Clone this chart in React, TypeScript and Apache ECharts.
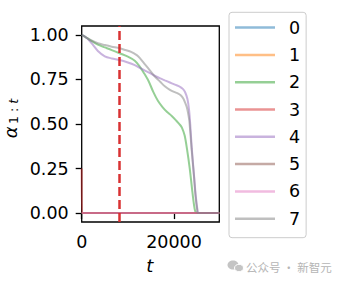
import { useEffect, useRef } from 'react';
import * as echarts from 'echarts';

// ---- data ----
const SERIES_NAMES = ['0', '1', '2', '3', '4', '5', '6', '7'];
const SERIES_COLORS = [
  'rgba(31,119,180,0.5)',
  'rgba(255,127,14,0.5)',
  'rgba(44,160,44,0.5)',
  'rgba(214,39,40,0.5)',
  'rgba(148,103,189,0.5)',
  'rgba(140,86,75,0.5)',
  'rgba(227,119,194,0.5)',
  'rgba(127,127,127,0.5)',
];

const FLAT_T = [0, 29800];
const FLAT_V = [0, 0];

const S3_T = [0, 60, 29800];
const S3_V = [0.25, 0, 0];

const S2_T = [0, 1000, 2000, 3500, 5000, 6500, 8200, 10000, 11500, 12500, 13500, 14500, 15500, 16500, 17500, 18500, 19500, 20500, 21200, 21700, 22300, 22800, 23400, 23900, 24300, 24600, 25000, 29800];
const S2_V = [1.0, 0.985, 0.968, 0.945, 0.93, 0.915, 0.897, 0.878, 0.855, 0.825, 0.785, 0.74, 0.68, 0.63, 0.595, 0.567, 0.545, 0.518, 0.498, 0.48, 0.435, 0.36, 0.25, 0.135, 0.05, 0.01, 0, 0];

const S4_T = [0, 700, 1400, 2400, 3500, 5000, 6500, 8200, 10000, 11500, 12600, 13700, 14800, 16000, 17000, 18000, 19100, 20200, 21300, 21900, 22400, 22900, 23250, 23500, 23850, 24350, 24720, 25080, 25300, 29800];
const S4_V = [1.0, 0.99, 0.975, 0.945, 0.91, 0.88, 0.868, 0.859, 0.845, 0.83, 0.815, 0.8, 0.785, 0.768, 0.756, 0.745, 0.733, 0.721, 0.709, 0.697, 0.678, 0.64, 0.58, 0.5, 0.36, 0.205, 0.092, 0.017, 0, 0];

const S7_T = [0, 1000, 2000, 3500, 5000, 6500, 8200, 9500, 10700, 12000, 12600, 13700, 14800, 15900, 17000, 18000, 19100, 20000, 20900, 21500, 22000, 22400, 22750, 23050, 23300, 23500, 23800, 24300, 24650, 25000, 25200, 29800];
const S7_V = [1.0, 0.985, 0.97, 0.953, 0.943, 0.934, 0.925, 0.915, 0.905, 0.885, 0.87, 0.835, 0.8, 0.765, 0.737, 0.712, 0.692, 0.68, 0.671, 0.66, 0.643, 0.62, 0.595, 0.56, 0.52, 0.46, 0.36, 0.21, 0.095, 0.02, 0, 0];

const SERIES_T = [FLAT_T, FLAT_T, S2_T, S3_T, S4_T, FLAT_T, FLAT_T, S7_T];
const SERIES_V = [FLAT_V, FLAT_V, S2_V, S3_V, S4_V, FLAT_V, FLAT_V, S7_V];

const X_MIN = 0;
const X_MAX = 29800;
const Y_MIN = -0.05;
const Y_MAX = 1.05;
const X_TICKS = [0, 20000];
const Y_TICKS = [0, 0.25, 0.5, 0.75, 1.0];
const DIVIDER_T = 8150;
const WATERMARK = '公众号 · 新智元';

const TICK_FONT = '"DejaVu Sans", sans-serif';

export default function App() {
  const ref = useRef<HTMLDivElement>(null);
  useEffect(() => {
    if (!ref.current) return;
    const chart = echarts.init(ref.current, undefined, { renderer: 'svg' });
    const series: any[] = SERIES_NAMES.map((name, i) => ({
      name,
      type: 'line',
      data: SERIES_T[i].map((t, j) => [t, SERIES_V[i][j]]),
      symbol: 'none',
      smooth: 0.3,
      lineStyle: { color: SERIES_COLORS[i], width: 2 },
      itemStyle: { color: SERIES_COLORS[i] },
      emphasis: { disabled: true },
      z: 2,
    }));
    series.push({
      name: 'divider',
      type: 'line',
      data: [],
      symbol: 'none',
      markLine: {
        silent: true,
        symbol: ['none', 'none'],
        label: { show: false },
        lineStyle: { color: '#d62728', type: [9, 4], width: 2.5, opacity: 0.95 },
        data: [{ xAxis: DIVIDER_T }],
      },
      z: 5,
    });
    chart.setOption({
      animation: false,
      grid: {
        left: 81.7,
        top: 26,
        width: 137.6,
        height: 196,
        show: true,
        borderColor: '#000',
        borderWidth: 1.3,
        backgroundColor: 'transparent',
      },
      xAxis: {
        type: 'value',
        min: X_MIN,
        max: X_MAX,
        axisLine: { show: false },
        splitLine: { show: false },
        axisTick: { show: true, length: 6, lineStyle: { color: '#000', width: 1.3 }, customValues: X_TICKS },
        axisLabel: {
          customValues: X_TICKS,
          color: '#000',
          fontFamily: TICK_FONT,
          fontSize: 17.5,
          margin: 11,
          formatter: (v: number) => String(v),
        },
      },
      yAxis: {
        type: 'value',
        min: Y_MIN,
        max: Y_MAX,
        axisLine: { show: false },
        splitLine: { show: false },
        axisTick: { show: true, length: 6, lineStyle: { color: '#000', width: 1.3 }, customValues: Y_TICKS },
        axisLabel: {
          customValues: Y_TICKS,
          color: '#000',
          fontFamily: TICK_FONT,
          fontSize: 17.5,
          margin: 13,
          formatter: (v: number) => v.toFixed(2),
        },
      },
      legend: {
        orient: 'vertical',
        left: 229,
        top: 12.3,
        data: SERIES_NAMES,
        icon: 'rect',
        itemWidth: 40,
        itemHeight: 2.5,
        itemGap: 9.3,
        padding: [6.3, 6, 10, 6],
        borderColor: '#cccccc',
        borderWidth: 1,
        borderRadius: 3,
        backgroundColor: '#fff',
        selectedMode: false,
        textStyle: {
          color: '#000',
          fontFamily: TICK_FONT,
          fontSize: 17.5,
          padding: [0, 0, 0, 9],
        },
      },
      graphic: [
        {
          type: 'group',
          x: 16.5,
          y: 122.5,
          rotation: Math.PI / 2,
          children: [
            {
              type: 'text',
              x: -15.8,
              y: -6.2,
              style: {
                text: 'α',
                font: 'italic 18px "DejaVu Sans"',
                fill: '#000',
                align: 'left',
                verticalAlign: 'middle',
              },
            },
            {
              type: 'text',
              x: -1.5,
              y: -3.2,
              style: {
                text: '{n|1 : }{i|t}',
                rich: {
                  n: { font: '12.6px "DejaVu Sans"', fill: '#000' },
                  i: { font: 'italic 12.6px "DejaVu Sans"', fill: '#000' },
                },
                fill: '#000',
                align: 'left',
                verticalAlign: 'middle',
              },
            },
          ],
        },
        {
          type: 'text',
          x: 149.7,
          y: 265.8,
          style: {
            text: 't',
            font: 'italic 18px "DejaVu Sans"',
            fill: '#000',
            align: 'center',
            verticalAlign: 'middle',
          },
        },
        {
          type: 'ellipse',
          shape: { cx: 233, cy: 265, rx: 5.5, ry: 4.5 },
          style: { fill: '#c4c4c4' },
        },
        {
          type: 'ellipse',
          shape: { cx: 239, cy: 268, rx: 4.5, ry: 3.7 },
          style: { fill: '#c4c4c4', stroke: '#fff', lineWidth: 1 },
        },
        {
          type: 'text',
          x: 246,
          y: 267,
          style: {
            text: WATERMARK,
            font: '11.5px "Noto Sans CJK SC"',
            fill: '#b5b5b5',
            align: 'left',
            verticalAlign: 'middle',
          },
        },
      ],
      series,
    });
    return () => chart.dispose();
  }, []);
  return (
    <div
      ref={ref}
      style={{ position: 'fixed', left: 0, top: 0, width: 337, height: 283, background: '#fff' }}
    />
  );
}
